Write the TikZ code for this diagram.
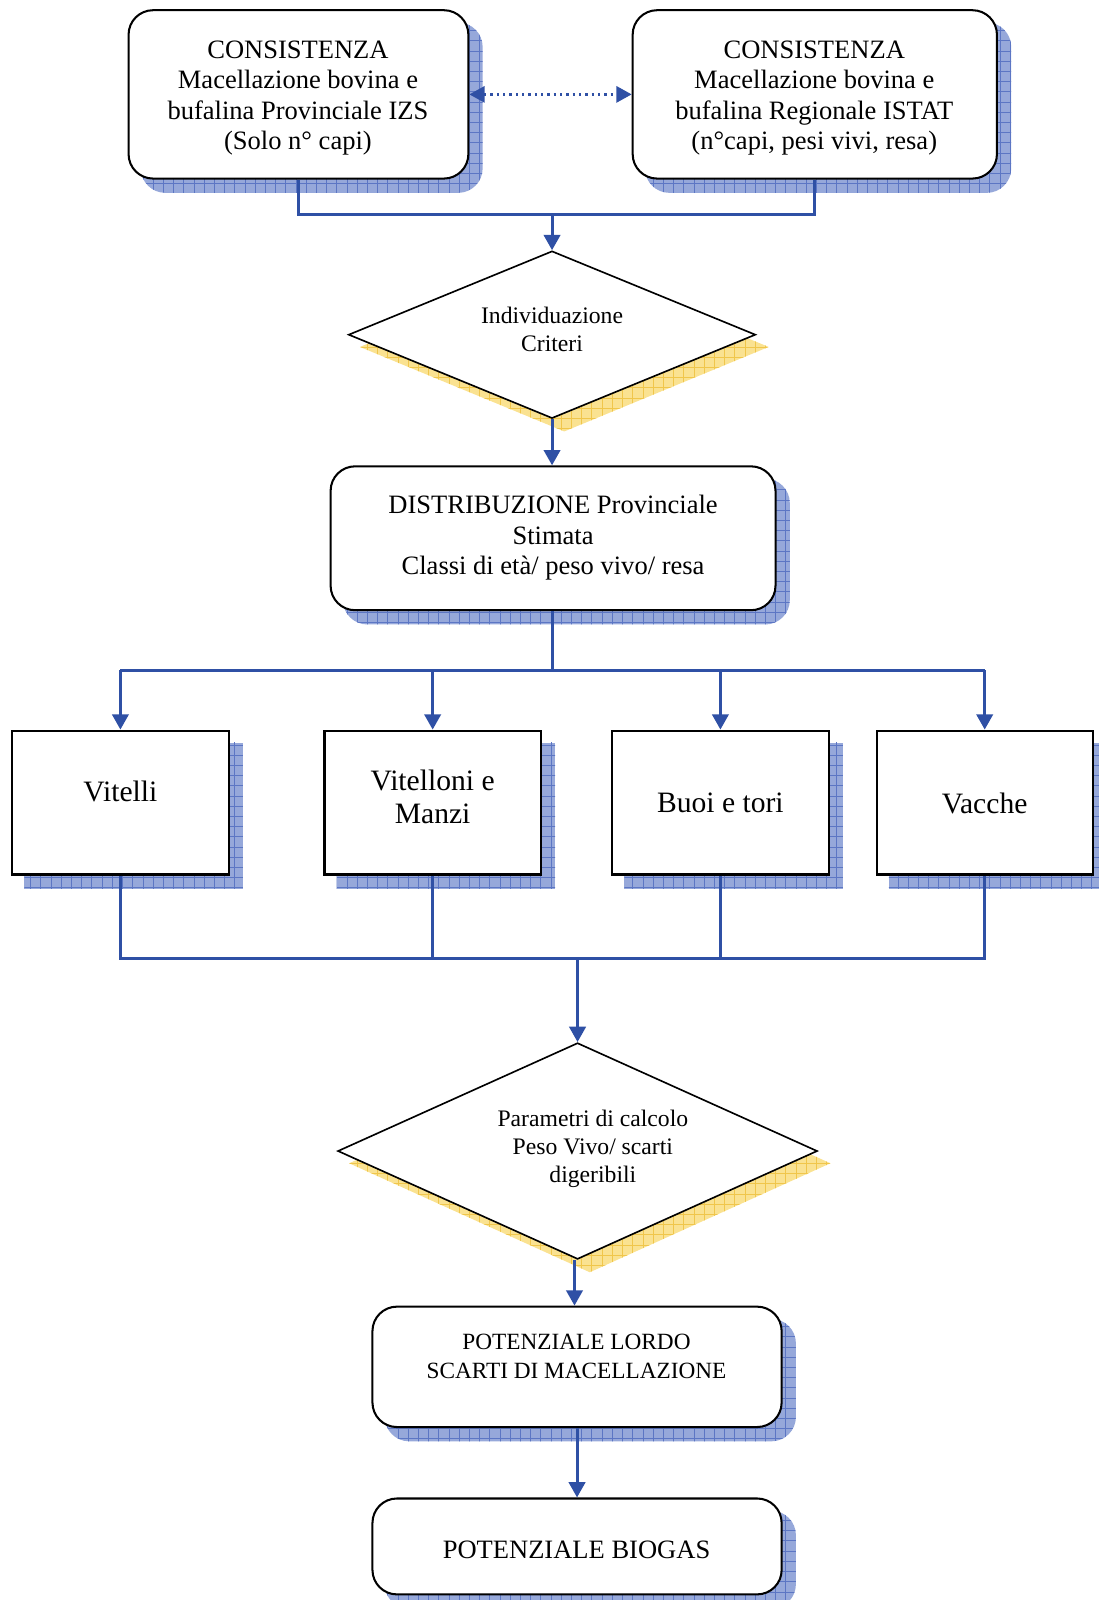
\documentclass[tikz,border=0pt]{standalone}
\usepackage{fontspec}
\setmainfont{Liberation Serif}
\usetikzlibrary{arrows.meta,shapes.geometric,backgrounds,calc}
\definecolor{conblue}{RGB}{47,80,165}
\definecolor{shblue}{RGB}{150,168,218}
\definecolor{shgrid}{RGB}{92,118,196}
\definecolor{shyel}{RGB}{250,226,145}
\definecolor{shyelgrid}{RGB}{240,198,75}
\begin{document}
\begin{tikzpicture}[x=0.5pt,y=-0.5pt,
  rbox/.style={draw=black, line width=1pt, fill=white, rounded corners=12pt, inner sep=0pt},
  sbox/.style={draw=black, line width=1pt, fill=white, inner sep=0pt},
  dia/.style={draw=black, line width=0.8pt, fill=white, diamond, inner sep=0pt},
  con/.style={draw=conblue, line width=1.5pt},
  arr/.style={con, -{Triangle[length=7.5pt,width=8pt]}},
  darr/.style={draw=conblue, line width=1.1pt, dotted, {Triangle[length=7.5pt,width=8pt]}-{Triangle[length=7.5pt,width=8pt]}},
  txt/.style={align=center, inner sep=0pt},
  fbig/.style={font=\fontsize{13}{15}\selectfont},
  fsmall/.style={font=\fontsize{11.6}{13.8}\selectfont},
  fbox/.style={font=\fontsize{14.5}{16.5}\selectfont},
  shb/.style={fill=shblue, path picture={\draw[shgrid, line width=0.35pt, step=5pt] ([shift={(-10pt,-10pt)}]path picture bounding box.south west) grid ([shift={(10pt,10pt)}]path picture bounding box.north east);}},
  shy/.style={fill=shyel, path picture={\draw[shyelgrid, line width=0.35pt, step=5pt] ([shift={(-10pt,-10pt)}]path picture bounding box.south west) grid ([shift={(10pt,10pt)}]path picture bounding box.north east);}},
]
\useasboundingbox (0,0) rectangle (1077,1568);

% boxes
\node[rbox, minimum width=166.5pt, minimum height=82.5pt] (b1) at (292.5,92.5) {};
\node[rbox, minimum width=178.5pt, minimum height=82.5pt] (b2) at (798.5,92.5) {};
\node[dia, minimum width=199.5pt, minimum height=82pt] (d1) at (541,328) {};
\node[rbox, minimum width=218pt, minimum height=70.5pt] (b3) at (542,527.5) {};
\node[sbox, minimum width=106pt, minimum height=70.5pt] (v1) at (118,786.5) {};
\node[sbox, minimum width=106pt, minimum height=70.5pt] (v2) at (424,786.5) {};
\node[sbox, minimum width=106pt, minimum height=70.5pt] (v3) at (706,786.5) {};
\node[sbox, minimum width=106pt, minimum height=70.5pt] (v4) at (965,786.5) {};
\node[dia, minimum width=235pt, minimum height=106pt] (d2) at (566,1128) {};
\node[rbox, minimum width=200.5pt, minimum height=59pt] (b4) at (565.5,1339.5) {};
\node[rbox, minimum width=200.5pt, minimum height=47pt] (b5) at (565.5,1515.5) {};

% shadows
\begin{pgfonlayer}{background}
\foreach \n in {b1,b2,b3,b4,b5}{
  \path[shb, rounded corners=12pt] ($(\n.north west)+(13,13)$) rectangle ($(\n.south east)+(13,13)$);
}
\foreach \n in {v1,v2,v3,v4}{
  \path[shb] ($(\n.north west)+(13,13)$) rectangle ($(\n.south east)+(13,13)$);
}
\foreach \n in {d1,d2}{
  \path[shy] ($(\n.north)+(12,12)$) -- ($(\n.east)+(12,12)$) -- ($(\n.south)+(12,12)$) -- ($(\n.west)+(12,12)$) -- cycle;
}
\end{pgfonlayer}

% texts
\node[txt, fbig] (t1) at (292,96) {CONSISTENZA\\Macellazione bovina e\\bufalina Provinciale IZS\\(Solo n° capi)};
\node[txt, fbig] (t2) at (798,96) {CONSISTENZA\\Macellazione bovina e\\bufalina Regionale ISTAT\\(n°capi, pesi vivi, resa)};
\node[txt, fsmall] (td1) at (541,323) {Individuazione\\Criteri};
\node[txt, fbig] (t3) at (542,527) {DISTRIBUZIONE Provinciale\\Stimata\\Classi di età/ peso vivo/ resa};
\node[txt, fbox] (tv1) at (118,776) {Vitelli};
\node[txt, fbox] (tv2) at (424,781) {Vitelloni e\\Manzi};
\node[txt, fbox] (tv3) at (706,787) {Buoi e tori};
\node[txt, fbox] (tv4) at (965,787) {Vacche};
\node[txt, fsmall] (td2) at (581,1126) {Parametri di calcolo\\Peso Vivo/ scarti\\digeribili};
\node[txt, font=\fontsize{11.4}{14}\selectfont] (t4) at (565,1329) {POTENZIALE LORDO\\SCARTI DI MACELLAZIONE};
\node[txt, fbig] (t5) at (565,1519) {POTENZIALE BIOGAS};

% junctions
\coordinate (j1) at (541,210);
\coordinate (j2) at (541,657);
\coordinate (j3) at (566,939);

% connectors
\draw[darr] (b1.east) -- (b2.west);
\draw[con] (b1.south) |- (j1) -| (b2.south);
\draw[arr] (j1) -- (d1.north);
\draw[arr] (d1.south) -- (d1.south |- b3.north);
\draw[con] (j2) -- (j2 |- b3.south);
\draw[con] (v1.north |- j2) -- (v4.north |- j2);
\foreach \n in {v1,v2,v3,v4}{
  \draw[arr] (\n.north |- j2) -- (\n.north);
}
\draw[con] (v1.south) |- (j3) -| (v4.south);
\draw[con] (v2.south) -- (v2.south |- j3);
\draw[con] (v3.south) -- (v3.south |- j3);
\draw[arr] (j3) -- (d2.north);
\draw[arr] ([xshift=-1.5]d2.south) -- ([xshift=-1.5]d2.south |- b4.north);
\draw[arr] (b4.south) -- (b5.north);
\end{tikzpicture}
\end{document}
